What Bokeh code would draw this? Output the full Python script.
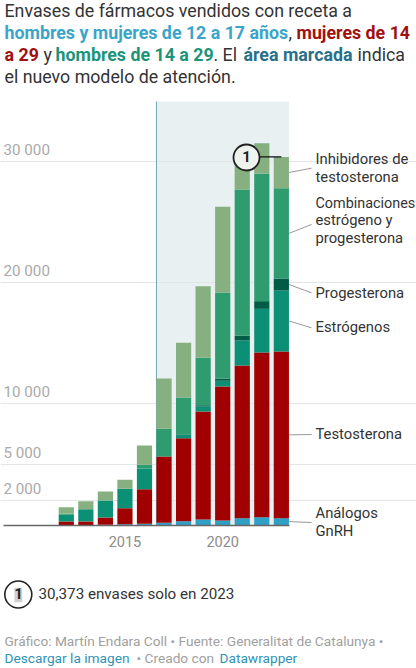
from bokeh.plotting import figure
from bokeh.embed import file_html
from bokeh.resources import INLINE
from bokeh.models import Grid, FixedTicker, LinearAxis, BoxAnnotation, Label, ColumnDataSource, Range1d

years = [2012, 2013, 2014, 2015, 2016, 2017, 2018, 2019, 2020, 2021, 2022, 2023]
series = ["analogos", "testosterona", "estrogenos", "progesterona", "combinacion", "inhibidores"]
analogos     = [10, 10, 30, 60, 100, 180, 310, 450, 370, 560, 640, 560]
testosterona = [280, 280, 590, 1325, 2855, 5470, 6850, 8915, 11060, 12600, 13590, 13755]
estrogenos   = [550, 1010, 1400, 1600, 1705, 10, 280, 415, 470, 2065, 3605, 5033]
progesterona = [0, 0, 0, 0, 0, 0, 40, 105, 160, 385, 635, 990]
combinacion  = [85, 0, 0, 15, 330, 2280, 3040, 3910, 7125, 12070, 10505, 7452]
inhibidores  = [545, 660, 745, 730, 1570, 4150, 4510, 5900, 7065, 2640, 2525, 2583]
colors = ["#2f9fc6", "#a10000", "#0b8f75", "#005c46", "#2f9c70", "#87b080"]
y_ticks = [2000, 5000, 10000, 20000, 30000]
y_labels = ["2 000", "5 000", "10 000", "20 000", "30 000"]
x_ticks = [2015, 2020]
start_year = 2017
total_2023 = 30373

W, H = 416, 668
STEP = 19.55
K = 0.01212
BASE = 524.5
X0 = 65.8
def dx(px): return 2012 + (px - X0) / STEP
def dy(py): return (BASE - py) / K

p = figure(width=W, height=H, output_backend="svg", toolbar_location=None, min_border=0,
           x_range=Range1d(dx(0), dx(W)), y_range=Range1d(dy(H), dy(0)),
           x_axis_type=None, y_axis_type=None, outline_line_color=None,
           margin=(0, 0, 0, 0), background_fill_color="white", border_fill_color="white")
p.grid.visible = False

bar_w = 15.2 / STEP
right_edge = 2023 + bar_w / 2
left_edge = start_year - bar_w / 2
p.add_layout(BoxAnnotation(left=left_edge, right=right_edge, bottom=0, top=dy(101),
                           fill_color="#e8f0f2", fill_alpha=1, line_color=None, level="underlay"))
p.add_layout(Grid(dimension=1, ticker=FixedTicker(ticks=y_ticks), bounds=(dx(3), right_edge),
                  grid_line_color="#e3e6e7", grid_line_width=1, level="underlay"))
p.segment(x0=[left_edge], x1=[left_edge], y0=[0], y1=[dy(101)], line_color="#6fa5ae", line_width=1)

src = ColumnDataSource(dict(year=years, analogos=analogos, testosterona=testosterona, estrogenos=estrogenos,
                            progesterona=progesterona, combinacion=combinacion, inhibidores=inhibidores))
p.vbar_stack(series, x="year", width=bar_w, source=src, color=colors, line_color=None)

ax = LinearAxis(fixed_location=0, ticker=FixedTicker(ticks=x_ticks), bounds=(dx(3), right_edge + 0.03),
                axis_line_color="#666666", axis_line_width=1.5, major_tick_line_color=None, minor_tick_line_color=None,
                major_label_text_color="#8c8c8c", major_label_text_font="Roboto", major_label_text_font_size="14.5px",
                major_label_standoff=5)
p.add_layout(ax, "below")

p.text(x=[dx(3)] * len(y_ticks), y=y_ticks, text=y_labels, text_font={"value": "Roboto"}, text_font_size={"value": "15.2px"},
       text_color="#aaaaaa", text_baseline="alphabetic", y_offset=-11.4)

# leaders from the middle of each 2023 segment
cum = 0
mids = []
for s in [analogos, testosterona, estrogenos, progesterona, combinacion, inhibidores]:
    mids.append(cum + s[-1] / 2)
    cum += s[-1]
ends = [522, 434, 327.3, 292.3, 224, 167.7]
p.segment(x0=[right_edge] * 6, x1=[dx(311)] * 6, y0=mids, y1=[dy(e) for e in ends], line_color="#999999", line_width=1)

# annotation
p.line(x=[dx(246), 2023], y=[total_2023, total_2023], line_color="#111111", line_width=1.3)
p.scatter(x=[dx(246)], y=[dy(157)], size=26, marker="circle", fill_color="#eef3ee", line_color="#222222", line_width=1.8)

def T(x, y, s, size=14.8, color="#333333", style="normal"):
    p.add_layout(Label(x=dx(x), y=dy(y - 0.42 * size), text=s, text_font="Roboto", text_font_size=f"{size}px",
                       text_color=color, text_font_style=style, text_baseline="alphabetic"))

T(241.8, 162.5, "1", 15, "#222222", "bold")

for x, y, s, fs in [(315, 165, "Inhibidores de", 14.8), (315, 182.5, "testosterona", 14.8), (315, 209, "Combinaciones", 14.4),
                    (315, 226, "estrógeno y", 14.8), (315, 243.5, "progesterona", 14.8), (315, 298.5, "Progesterona", 14.8),
                    (315, 333, "Estrógenos", 14.8), (315, 440, "Testosterona", 14.8), (315, 518.5, "Análogos", 14.8), (315, 536.5, "GnRH", 14.8)]:
    T(x, y, s, fs)

TS = 17.8
T(4, 17.5, "Envases de fármacos vendidos con receta a", TS)
T(4, 39.5, "hombres y mujeres de 12 a 17 años", TS, "#3aa5c9", "bold")
T(288, 39.5, ",", TS)
T(296, 39.5, "mujeres de 14", TS, "#a01010", "bold")
T(4, 61.5, "a 29", TS, "#a01010", "bold")
T(43, 61.5, "y", TS)
T(55, 61.5, "hombres de 14 a 29", TS, "#1b9478", "bold")
T(213, 61.5, ". El", TS)
T(243, 61.5, "área marcada", TS, "#2a6f8a", "bold")
T(357, 61.5, "indica", TS)
T(4, 83.5, "el nuevo modelo de atención.", TS)

# footnote
p.scatter(x=[dx(17.8)], y=[dy(594)], size=27, marker="circle", fill_color="white", line_color="#222222", line_width=1.6)
p.add_layout(BoxAnnotation(left=dx(14), right=dx(21.7), top=dy(587.3), bottom=dy(601.7), fill_color="#cfcfcf", fill_alpha=1, line_color=None))
T(13.8, 599.5, "1", 15, "#222222", "bold")
T(38, 599.5, "30,373 envases solo en 2023", 15.2)

FS = 13.7
T(4, 646, "Gráfico: Martín Endara Coll • Fuente: Generalitat de Catalunya •", FS, "#a0a0a0")
T(4, 663, "Descargar la imagen", FS, "#2f93b5")
T(136, 663, "• Creado con", FS, "#a0a0a0")
T(219, 663, "Datawrapper", FS, "#2f93b5")

open("out.html", "w").write(file_html(p, INLINE))
